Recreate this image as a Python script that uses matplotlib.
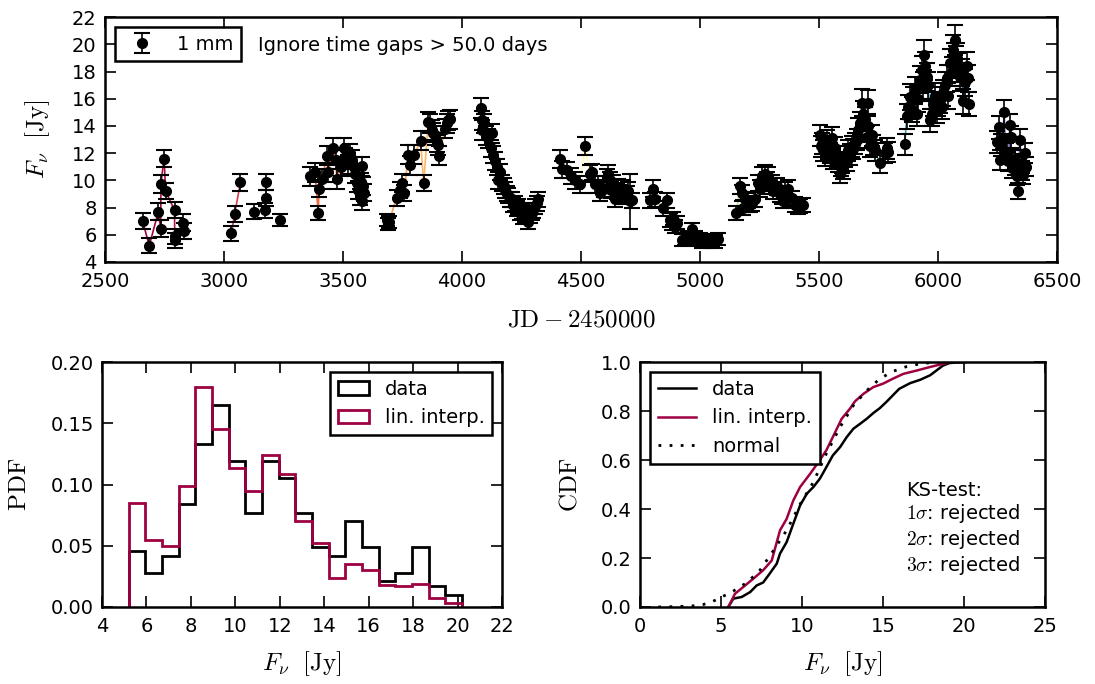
import numpy as np
import matplotlib
matplotlib.use('Agg')
import matplotlib.pyplot as plt
from matplotlib.colors import Normalize

# light curve, 1 mm (JD - 2450000, flux [Jy], error [Jy])
jd = [
    2658, 2686, 2724, 2734, 2735, 2748, 2755, 2792, 2793, 2795, 2829, 2830,
    3031, 3045, 3069, 3125, 3174, 3175, 3177, 3237,
    3361, 3382, 3396, 3399, 3413, 3431, 3438, 3459, 3469, 3474, 3490, 3504, 3508,
    3520, 3529, 3539, 3545, 3550, 3557, 3564, 3571, 3575, 3578, 3581, 3585, 3590,
    3686, 3688, 3693, 3725, 3739, 3746, 3757, 3774, 3781, 3799, 3826, 3839,
    3858, 3865, 3872, 3880, 3887, 3893, 3900, 3902, 3930, 3935, 3942, 3950,
    4080, 4083, 4085, 4092, 4099, 4110, 4120, 4128, 4130, 4139, 4146, 4150, 4160, 4167, 4175, 4181, 4188, 4195,
    4202, 4209, 4216, 4223, 4230, 4237, 4244, 4251, 4258, 4265, 4272, 4279, 4286, 4293, 4300, 4307, 4314, 4321,
    4412, 4421, 4440, 4460, 4475, 4496, 4517, 4538, 4545, 4559, 4573, 4580, 4595, 4608,
    4615, 4622, 4628, 4636, 4643, 4650, 4657, 4664, 4671, 4678, 4692, 4699, 4706, 4713,
    4790, 4804, 4811, 4846, 4860, 4874, 4881, 4888, 4895, 4902, 4923, 4937,
    4950, 4965, 4979, 4990, 5000, 5010, 5021, 5035, 5049, 5063, 5077,
    5153, 5168, 5175, 5182, 5189, 5196, 5203, 5210, 5217, 5231, 5245, 5252, 5259, 5266, 5273, 5280,
    5287, 5294, 5301, 5308, 5322, 5336, 5343, 5350, 5357, 5371, 5385, 5399, 5413, 5420, 5434,
    5504, 5508, 5511, 5518, 5525, 5532, 5539, 5546, 5556, 5560, 5567, 5574, 5581, 5588, 5592, 5595, 5602, 5609, 5616, 5623,
    5630, 5637, 5644, 5651, 5658, 5665, 5672, 5679, 5686, 5693, 5700, 5704, 5707, 5714, 5721, 5728, 5735, 5756, 5777, 5784, 5791,
    5861, 5868, 5875, 5882, 5889, 5896, 5903, 5910, 5917, 5924, 5931, 5938, 5941, 5945, 5952, 5959, 5966, 5973, 5980, 5987, 5994,
    6001, 6008, 6015, 6022, 6029, 6036, 6043, 6050, 6057, 6061, 6068, 6071, 6075, 6078, 6085, 6092, 6099, 6106, 6113, 6120, 6127, 6130,
    6246, 6256, 6260, 6266, 6272, 6278, 6284, 6289, 6296, 6302, 6305,
    6309, 6316, 6323, 6330, 6337, 6344, 6351, 6355, 6358, 6365, 6370,
]
flux = [
    7.0, 5.2, 7.7, 6.45, 9.75, 11.6, 9.2, 7.8, 5.9, 5.6, 6.9, 6.3,
    6.1, 7.55, 9.85, 7.7, 7.8, 8.7, 9.9, 7.1,
    10.3, 10.6, 7.6, 9.4, 10.1, 11.8, 10.6, 12.4, 11.5, 10.1, 11.0, 12.4, 11.7,
    11.2, 12.0, 11.5, 11.0, 10.5, 9.8, 9.3, 8.8, 9.9, 11.05, 8.45, 9.6, 9.1,
    7.1, 6.8, 6.95, 8.7, 9.3, 9.8, 9.05, 11.9, 11.1, 11.9, 12.9, 9.8,
    14.3, 14.2, 13.7, 13.5, 13.3, 12.8, 12.6, 11.8, 13.8, 14.2, 14.4, 14.5,
    15.3, 14.4, 13.7, 14.2, 13.3, 13.1, 12.35, 13.45, 11.9, 11.4, 11.0, 10.0, 10.6, 9.8, 9.6, 9.3, 9.0, 8.9,
    8.6, 8.6, 8.2, 8.3, 7.9, 8.1, 7.6, 7.7, 7.3, 7.45, 7.8, 6.95, 7.35, 7.6, 7.8, 8.1, 8.3, 8.6,
    11.55, 10.8, 10.75, 10.3, 10.0, 9.7, 12.5, 10.5, 10.6, 9.7, 9.7, 9.05, 9.4, 10.2,
    10.5, 10.0, 9.3, 9.8, 8.6, 9.2, 9.5, 9.05, 8.8, 9.4, 9.0, 9.25, 8.45, 8.55,
    8.55, 9.4, 8.6, 7.95, 8.55, 7.1, 6.85, 7.2, 6.6, 6.9, 5.6, 5.7,
    5.8, 6.4, 5.85, 5.6, 5.7, 5.5, 5.6, 5.5, 5.6, 5.5, 5.7,
    7.6, 9.6, 9.05, 8.0, 8.6, 8.2, 8.55, 8.2, 8.3, 8.6, 9.8, 9.4, 10.3, 9.8, 10.5, 10.0,
    10.3, 9.6, 9.8, 9.2, 9.55, 9.0, 8.8, 8.5, 9.3, 9.4, 8.7, 8.2, 8.0, 8.1, 8.2,
    13.3, 12.5, 12.7, 12.2, 11.8, 12.9, 12.3, 12.0, 13.1, 11.5, 12.4, 11.75, 11.3, 10.5, 11.0, 11.25, 10.8, 11.75, 11.4, 12.2,
    11.9, 12.5, 12.3, 12.7, 13.0, 13.7, 14.2, 15.7, 14.9, 14.5, 13.2, 15.7, 14.0, 12.5, 13.3, 12.6, 12.2, 11.25, 12.0, 12.35, 12.1,
    12.65, 14.7, 15.4, 16.15, 15.2, 15.9, 16.6, 14.9, 16.0, 17.4, 18.1, 17.0, 19.2, 18.4, 17.6, 17.0, 14.4, 14.9, 15.6, 16.2, 15.1,
    15.6, 15.9, 15.4, 16.4, 17.0, 17.5, 16.2, 18.6, 18.0, 19.6, 19.0, 20.3, 18.8, 19.0, 18.3, 17.6, 17.9, 15.8, 17.2, 18.4, 17.5, 15.6,
    12.8, 13.9, 11.5, 12.6, 13.1, 15.0, 12.0, 12.1, 11.4, 14.05, 13.2,
    10.9, 11.5, 11.1, 10.3, 9.2, 13.0, 11.25, 10.7, 10.4, 12.0, 11.0,
]
flux_err = [
    0.6, 0.55, 0.6, 0.6, 0.65, 0.6, 0.6, 0.6, 0.55, 0.55, 0.6, 0.6,
    0.55, 0.6, 0.65, 0.55, 0.55, 0.6, 0.6, 0.45,
    0.7, 0.7, 0.55, 0.65, 0.7, 0.7, 0.7, 0.7, 0.7, 0.7, 0.7, 0.7, 0.7,
    0.7, 0.7, 0.7, 0.7, 0.7, 0.65, 0.65, 0.6, 0.65, 0.7, 0.6, 0.65, 0.6,
    0.45, 0.45, 0.45, 0.6, 0.6, 0.65, 0.6, 0.7, 0.7, 0.7, 0.7, 0.6,
    0.7, 0.7, 0.7, 0.7, 0.7, 0.7, 0.7, 0.7, 0.7, 0.7, 0.7, 0.7,
    0.75, 0.7, 0.7, 0.7, 0.7, 0.7, 0.65, 0.7, 0.65, 0.65, 0.6, 0.6, 0.6, 0.6, 0.6, 0.6, 0.55, 0.55,
    0.55, 0.55, 0.55, 0.55, 0.55, 0.55, 0.5, 0.55, 0.5, 0.5, 0.55, 0.5, 0.5, 0.55, 0.55, 0.55, 0.55, 0.55,
    0.65, 0.6, 0.6, 0.6, 0.6, 0.6, 0.65, 0.6, 0.6, 0.6, 0.6, 0.6, 0.6, 0.65,
    0.65, 0.6, 0.6, 0.6, 0.55, 0.6, 0.6, 0.6, 0.55, 0.6, 0.6, 0.6, 2.0, 0.55,
    0.55, 0.6, 0.55, 0.55, 0.55, 0.5, 0.5, 0.5, 0.5, 0.5, 0.45, 0.45,
    0.45, 0.5, 0.45, 0.45, 0.45, 0.45, 0.45, 0.45, 0.45, 0.45, 0.45,
    0.5, 0.6, 0.6, 0.55, 0.55, 0.55, 0.55, 0.55, 0.55, 0.55, 0.6, 0.6, 0.65, 0.6, 0.65, 0.6,
    0.65, 0.6, 0.6, 0.6, 0.6, 0.6, 0.55, 0.55, 0.6, 0.6, 0.55, 0.55, 0.5, 0.5, 0.5,
    0.8, 0.75, 0.75, 0.75, 0.75, 0.8, 0.75, 0.75, 0.8, 0.7, 0.75, 0.75, 0.7, 0.7, 0.7, 0.7, 0.7, 0.75, 0.7, 0.75,
    0.75, 0.75, 0.75, 0.75, 0.8, 0.85, 0.85, 1.0, 0.9, 0.9, 0.8, 0.95, 0.85, 0.75, 0.8, 0.75, 0.75, 0.7, 0.75, 0.75, 0.75,
    0.75, 0.9, 0.9, 0.95, 0.9, 0.95, 1.0, 0.9, 0.95, 1.0, 1.05, 1.0, 1.1, 1.05, 1.0, 1.0, 0.85, 0.9, 0.9, 0.95, 0.9,
    0.9, 0.95, 0.9, 0.95, 1.0, 1.0, 0.95, 1.05, 1.05, 1.1, 1.1, 1.1, 1.05, 1.1, 1.05, 1.0, 1.0, 0.9, 1.0, 1.05, 1.0, 0.9,
    0.8, 0.85, 0.75, 0.8, 0.8, 0.9, 0.75, 0.75, 0.7, 0.85, 0.8,
    0.7, 0.75, 0.7, 0.65, 0.6, 0.8, 0.7, 0.7, 0.65, 0.75, 0.7,
]
max_gap = 50.0

# PDF histograms
bin_edges = [5.2, 5.95, 6.7, 7.45, 8.2, 8.95, 9.7, 10.45, 11.2, 11.95, 12.7,
             13.45, 14.2, 14.95, 15.7, 16.45, 17.2, 17.95, 18.7, 19.45, 20.2]
pdf_data = [0.046, 0.028, 0.042, 0.084, 0.133, 0.165, 0.119, 0.077, 0.119, 0.105,
            0.077, 0.049, 0.042, 0.070, 0.049, 0.021, 0.028, 0.049, 0.017, 0.010]
pdf_interp = [0.085, 0.055, 0.050, 0.0985, 0.180, 0.145, 0.1135, 0.0947, 0.124, 0.109,
              0.070, 0.0525, 0.0237, 0.035, 0.030, 0.018, 0.017, 0.019, 0.0076, 0.003]

# CDF curves
cdf_data_x = [5.45, 5.76, 6.28, 6.8, 7.2, 7.6, 8.0, 8.44, 8.64, 9.05, 9.46, 9.88, 10.3, 10.7,
              11.1, 11.5, 11.9, 12.35, 12.76, 13.17, 13.58, 14.0, 14.4, 14.8, 15.2, 15.6,
              16.0, 16.67, 17.3, 17.9, 18.3, 18.7, 19.1, 19.75, 20.06]
cdf_data_y = [0.0, 0.034, 0.041, 0.061, 0.088, 0.10, 0.136, 0.177, 0.218, 0.265, 0.34, 0.415,
              0.463, 0.49, 0.524, 0.571, 0.619, 0.653, 0.694, 0.728, 0.748, 0.769, 0.792,
              0.812, 0.837, 0.864, 0.891, 0.914, 0.928, 0.946, 0.966, 0.986, 0.996, 1.0, 1.0]
cdf_interp_x = [5.45, 5.86, 6.38, 7.0, 7.6, 8.13, 8.64, 9.05, 9.46, 9.88, 10.5, 11.1, 11.5,
                11.9, 12.45, 12.96, 13.27, 13.8, 14.4, 15.0, 15.6, 16.25, 17.1, 17.9, 18.7,
                19.3, 20.06]
cdf_interp_y = [0.0, 0.054, 0.082, 0.116, 0.15, 0.19, 0.313, 0.36, 0.435, 0.49, 0.544, 0.6,
                0.64, 0.694, 0.769, 0.81, 0.84, 0.871, 0.898, 0.912, 0.932, 0.952, 0.966,
                0.98, 0.993, 1.0, 1.0]
cdf_norm_x = [1.13, 1.85, 3.19, 3.9, 4.5, 5.14, 5.76, 6.6, 7.4, 8.23, 9.05, 9.88, 10.7,
              11.5, 12.35, 13.17, 14.0, 14.8, 15.6, 16.46, 17.3, 18.1, 18.9, 19.75]
cdf_norm_y = [0.0, 0.001, 0.004, 0.01, 0.023, 0.044, 0.065, 0.10, 0.15, 0.23, 0.313, 0.42,
              0.51, 0.626, 0.735, 0.823, 0.884, 0.932, 0.962, 0.982, 0.993, 0.999, 1.0, 1.0]

red = '#9e0142'

plt.rcParams.update({
    'font.size': 14,
    'mathtext.fontset': 'cm',
    'axes.linewidth': 1.8,
    'xtick.direction': 'in',
    'ytick.direction': 'in',
    'xtick.top': True,
    'ytick.right': True,
    'xtick.major.size': 8,
    'ytick.major.size': 8,
    'xtick.major.width': 1.2,
    'ytick.major.width': 1.2,
    'xtick.major.pad': 7,
    'ytick.major.pad': 6,
    'legend.fancybox': False,
    'legend.edgecolor': 'black',
    'legend.framealpha': 1,
})

fig = plt.figure(figsize=(10.95, 6.84), dpi=100)
ax1 = fig.add_axes([0.0959, 0.617, 0.8694, 0.358])
ax2 = fig.add_axes([0.0932, 0.1126, 0.3653, 0.358])
ax3 = fig.add_axes([0.5845, 0.1126, 0.3699, 0.358])

# --- light curve
cmap = plt.get_cmap('Spectral')
norm = Normalize(min(jd), max(jd))
for i in range(len(jd) - 1):
    if jd[i + 1] - jd[i] <= max_gap:
        ax1.plot(jd[i:i + 2], flux[i:i + 2], color=cmap(norm(jd[i])), lw=1.2, zorder=1)
ax1.errorbar(jd, flux, yerr=flux_err, fmt='o', color='black', ms=7, elinewidth=1.2,
             capsize=6, capthick=1.5, zorder=2, label='1 mm')
ax1.set_xlim(2500, 6500)
ax1.set_ylim(4, 22)
ax1.set_xticks(np.arange(2500, 6501, 500))
ax1.set_yticks(np.arange(4, 23, 2))
ax1.set_xlabel(r'$\mathrm{JD}-2450000$', fontsize=18, labelpad=12)
ax1.set_ylabel(r'$F_\nu\ \ [\mathrm{Jy}]$', fontsize=18, labelpad=14)
leg = ax1.legend(loc='upper left', numpoints=1, borderaxespad=0.5, handlelength=2.0)
leg.get_frame().set_linewidth(1.8)
ax1.text(0.161, 0.885, 'Ignore time gaps > 50.0 days', transform=ax1.transAxes, va='center')

# --- PDF
centers = [0.5 * (a + b) for a, b in zip(bin_edges[:-1], bin_edges[1:])]
ax2.hist(centers, bins=bin_edges, weights=pdf_data, histtype='step', color='black', lw=2, label='data')
ax2.hist(centers, bins=bin_edges, weights=pdf_interp, histtype='step', color=red, lw=2, label='lin. interp.')
ax2.set_xlim(4, 22)
ax2.set_ylim(0, 0.2)
ax2.set_xticks(np.arange(4, 23, 2))
ax2.set_yticks(np.arange(0, 0.201, 0.05))
ax2.yaxis.set_major_formatter(plt.FormatStrFormatter('%.2f'))
ax2.set_xlabel(r'$F_\nu\ \ [\mathrm{Jy}]$', fontsize=18, labelpad=10)
ax2.set_ylabel(r'$\mathrm{PDF}$', fontsize=18, labelpad=14)
leg = ax2.legend(loc='upper right', handlelength=1.6, borderaxespad=0.5)
leg.get_frame().set_linewidth(1.8)

# --- CDF
ax3.plot(cdf_data_x, cdf_data_y, color='black', lw=1.8, label='data')
ax3.plot(cdf_interp_x, cdf_interp_y, color=red, lw=1.8, label='lin. interp.')
ax3.plot(cdf_norm_x, cdf_norm_y, color='black', lw=2, ls=(0, (1, 3)), label='normal')
ax3.set_xlim(0, 25)
ax3.set_ylim(0, 1)
ax3.set_xticks(np.arange(0, 26, 5))
ax3.set_yticks(np.arange(0, 1.01, 0.2))
ax3.yaxis.set_major_formatter(plt.FormatStrFormatter('%.1f'))
ax3.set_xlabel(r'$F_\nu\ \ [\mathrm{Jy}]$', fontsize=18, labelpad=10)
ax3.set_ylabel(r'$\mathrm{CDF}$', fontsize=18, labelpad=14)
leg = ax3.legend(loc='upper left', handlelength=2.0, borderaxespad=0.5)
leg.get_frame().set_linewidth(1.8)
ax3.text(16.4, 0.515, 'KS-test:\n$1\\sigma$: rejected\n$2\\sigma$: rejected\n$3\\sigma$: rejected',
         va='top', ha='left', linespacing=1.15)

fig.savefig('out.png', dpi=100)
